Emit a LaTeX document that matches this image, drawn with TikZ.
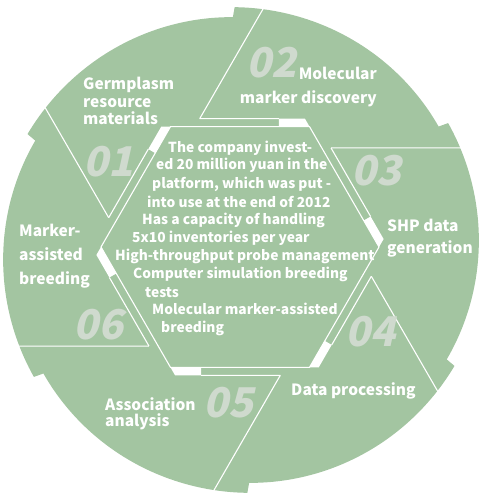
\documentclass[tikz,border=0pt]{standalone}
\usepackage{fontspec}
\setmainfont{Noto Sans CJK SC}
\newfontfamily\numfont{Noto Sans CJK SC}[FakeSlant=0.22]

\definecolor{leaf}{HTML}{A3C5A1}
\definecolor{numgray}{HTML}{CFDACE}

\begin{document}
\begin{tikzpicture}[
    x=1pt, y=-1pt,
    rim/.style={white, line width=1.1pt},
    bladetext/.style={text=white, inner sep=0pt, font=\bfseries\fontsize{15.5}{17.5}\selectfont},
    numtext/.style={text=numgray, inner sep=0pt, font=\numfont\bfseries\fontsize{41}{41}\selectfont},
    infotext/.style={text=white, inner sep=0pt, anchor=base west, font=\bfseries\fontsize{13.8}{18}\selectfont},
]
\useasboundingbox (0,0) rectangle (479,494);

% Outer disc: six blades, each rim a little spiral
\begin{scope}[shift={(241,250)}, yscale=-1]
  \fill[leaf] plot[domain=32:392, samples=721]
    ({(233+10*mod(\x-32,60)/60)*cos(\x)}, {(233+10*mod(\x-32,60)/60)*sin(\x)}) -- cycle;
\end{scope}

% Centre hexagon with the pinwheel bars and the blade borders
\begin{scope}[shift={(240,247)}, yscale=-1]
  \draw[rim] (0:139) \foreach \a in {60,120,...,300}{ -- (\a:139)} -- cycle;
  \foreach \j in {0,...,5}{
    \begin{scope}[rotate=60*\j]
      \coordinate (P\j) at (131.3,-29.3);
      \coordinate (Q\j) at (91.7,-97.9);
      \coordinate (Qi\j) at (84.8,-93.9);
      \coordinate (B\j) at (69.5,-120.4);
      \coordinate (Bo\j) at (78.7,-120.4);
      \coordinate (R\j) at (206.3,-159.2);
      \fill[white] (Qi\j) -- (Q\j) -- (Bo\j) -- (B\j) -- cycle;
      \draw[rim] (P\j) -- (Q\j);
      \draw[rim] (P\j) -- (R\j);
    \end{scope}
  }
\end{scope}

% Step numbers
\node[numtext] (n01) at (108,162) {01};
\node[numtext] (n02) at (271,63) {02};
\node[numtext] (n03) at (376,171) {03};
\node[numtext] (n04) at (370,332) {04};
\node[numtext] (n05) at (228,403) {05};
\node[numtext] (n06) at (98,325) {06};

% Step names
\node[bladetext, align=left, anchor=north west] (germ) at (83,77) {Germplasm\\resource\\materials};
\node[bladetext, align=right, anchor=north east, font=\bfseries\fontsize{15.5}{24}\selectfont] (mol) at (377,67) {Molecular\\marker discovery};
\node[bladetext, align=left, anchor=north west, font=\bfseries\fontsize{15.5}{22}\selectfont] (shp) at (387,219) {SHP data\\generation};
\node[bladetext, anchor=base west] (proc) at (291,395) {Data processing};
\node[bladetext, align=left, anchor=north west, font=\bfseries\fontsize{15.5}{16.5}\selectfont] (assoc) at (105,397) {Association\\analysis};
\node[bladetext, align=left, anchor=north west, font=\bfseries\fontsize{15.5}{24}\selectfont] (mas) at (19,224) {Marker-\\assisted\\breeding};

% Platform facts in the hexagon
\foreach \lx/\ly/\ltext [count=\i] in {
    168/153/{The company invest-},
    156/170/{ed 20 million yuan in the},
    152/188/{platform, which was put -},
    147/207/{into use at the end of 2012},
    142/224/{Has a capacity of handling},
    132/242/{5x10 inventories per year},
    115/260/{High-throughput probe management},
    133/278/{Computer simulation breeding},
    145/297/{tests},
    152/314/{Molecular marker-assisted},
    161/332/{breeding}}
  \node[infotext] (info\i) at (\lx,\ly) {\ltext};

\end{tikzpicture}
\end{document}
